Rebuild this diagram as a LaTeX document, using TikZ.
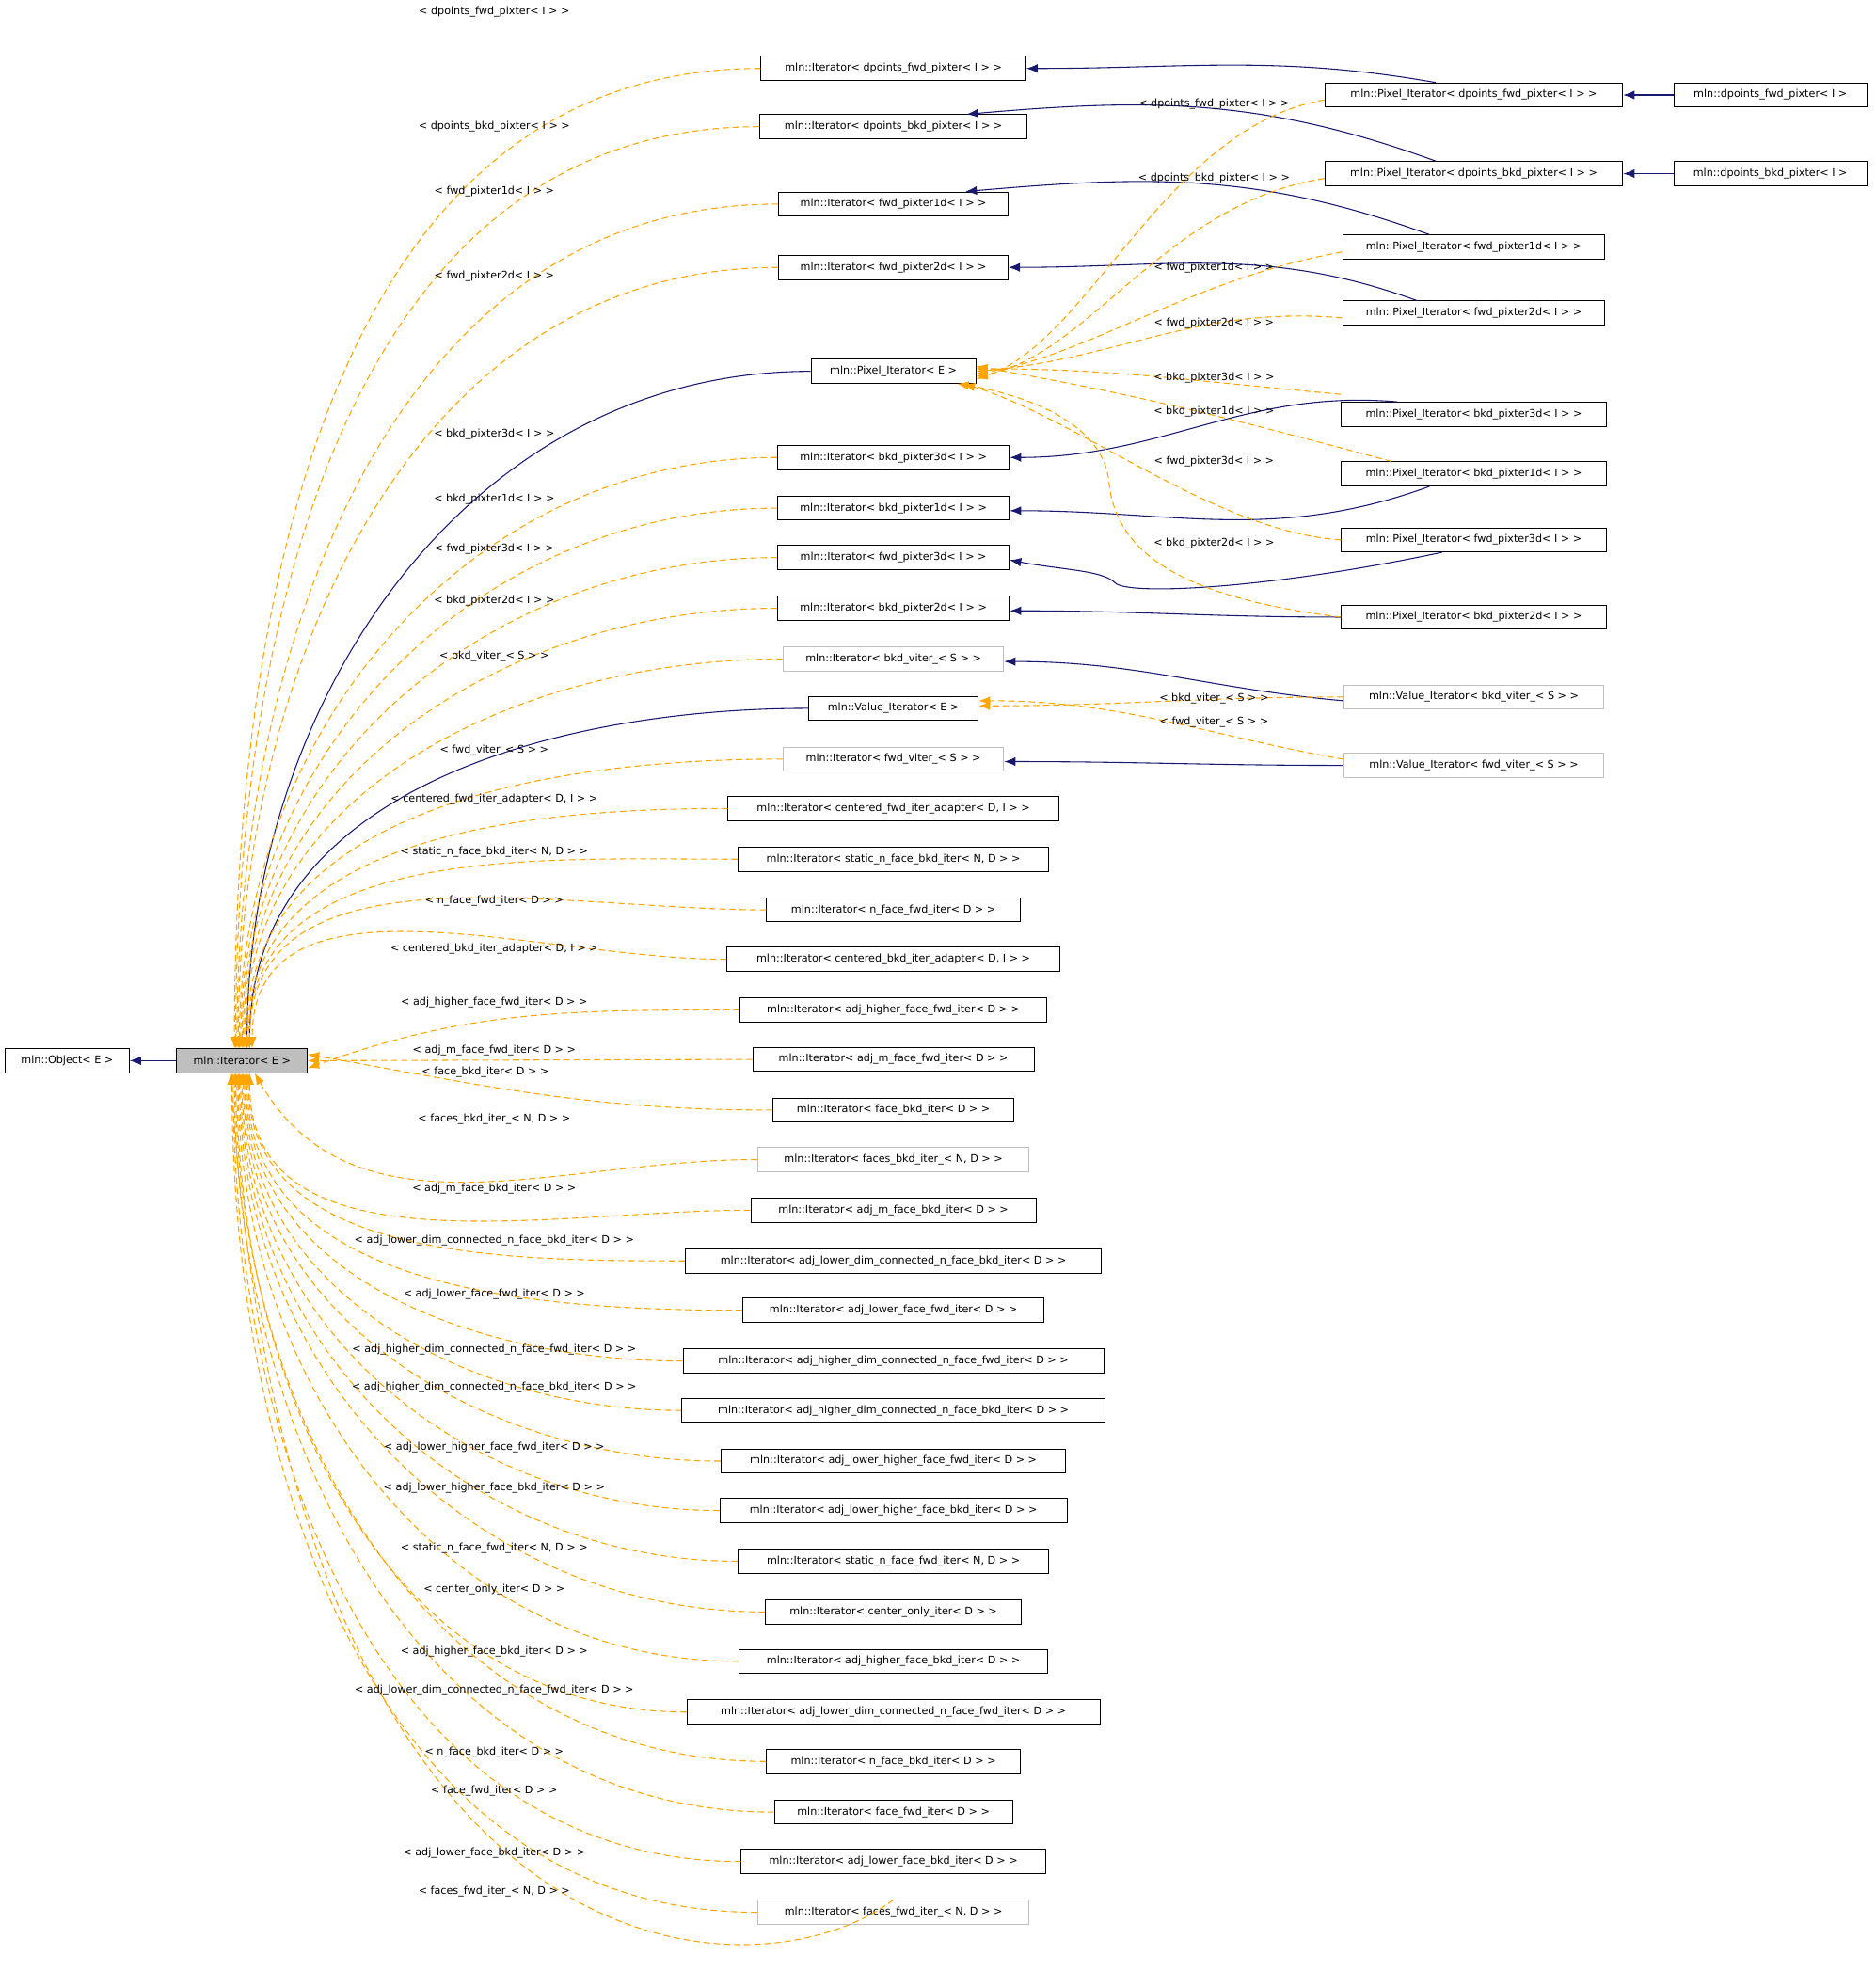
\documentclass[tikz,border=0pt]{standalone}
\usepackage{fontspec}
\setmainfont{DejaVu Sans}
\usetikzlibrary{arrows.meta}
\definecolor{navy}{RGB}{25,25,112}
\definecolor{org}{RGB}{255,165,0}
\definecolor{lg}{RGB}{191,191,191}
\newcommand{\ff}{\fontsize{8.3}{9.5}\selectfont}
\tikzset{
 box/.style={draw=black,fill=white,minimum height=19,inner sep=1pt,font=\ff,line width=0.7pt},
 gbox/.style={box,draw=lg},
 inh/.style={draw=navy,line width=0.8pt,-{Latex[length=9pt,width=7pt]}},
 dep/.style={draw=org,dashed,dash pattern=on 5pt off 3pt,line width=0.8pt,-{Latex[length=9pt,width=7pt]}},
 lab/.style={font=\ff,inner sep=0pt},
}
\begin{document}
\begin{tikzpicture}[x=1pt,y=-1pt]
\useasboundingbox (0,0) rectangle (1480,1568);
\node[box,minimum width=98] (obj) at (53,837) {mln::Object< E >};
\node[box,fill=lg,minimum width=103] (iter) at (191,837) {mln::Iterator< E >};
\draw[inh] (iter) -- (obj);
% middle column
\node[box,minimum width=209] (a1) at (705,54) {mln::Iterator< dpoints\_fwd\_pixter< I > >};
\node[box,minimum width=211] (a2) at (705,100) {mln::Iterator< dpoints\_bkd\_pixter< I > >};
\node[box,minimum width=181] (a3) at (705,161) {mln::Iterator< fwd\_pixter1d< I > >};
\node[box,minimum width=181] (a4) at (705,211) {mln::Iterator< fwd\_pixter2d< I > >};
\node[box,minimum width=130] (pe) at (705,293) {mln::Pixel\_Iterator< E >};
\node[box,minimum width=183] (a6) at (705,361) {mln::Iterator< bkd\_pixter3d< I > >};
\node[box,minimum width=183] (a7) at (705,401) {mln::Iterator< bkd\_pixter1d< I > >};
\node[box,minimum width=183] (a8) at (705,440) {mln::Iterator< fwd\_pixter3d< I > >};
\node[box,minimum width=183] (a9) at (705,480) {mln::Iterator< bkd\_pixter2d< I > >};
\node[gbox,minimum width=174] (a10) at (705,520) {mln::Iterator< bkd\_viter\_< S > >};
\node[box,minimum width=134] (ve) at (705,559) {mln::Value\_Iterator< E >};
\node[gbox,minimum width=174] (a12) at (705,599) {mln::Iterator< fwd\_viter\_< S > >};
\node[box,minimum width=261] (a13) at (705,638) {mln::Iterator< centered\_fwd\_iter\_adapter< D, I > >};
\node[box,minimum width=245] (a14) at (705,678) {mln::Iterator< static\_n\_face\_bkd\_iter< N, D > >};
\node[box,minimum width=200] (a15) at (705,718) {mln::Iterator< n\_face\_fwd\_iter< D > >};
\node[box,minimum width=263] (a16) at (705,757) {mln::Iterator< centered\_bkd\_iter\_adapter< D, I > >};
\node[box,minimum width=242] (a17) at (705,797) {mln::Iterator< adj\_higher\_face\_fwd\_iter< D > >};
\node[box,minimum width=222] (a18) at (705,836) {mln::Iterator< adj\_m\_face\_fwd\_iter< D > >};
\node[box,minimum width=190] (a19) at (705,876) {mln::Iterator< face\_bkd\_iter< D > >};
\node[gbox,minimum width=214] (a20) at (705,915) {mln::Iterator< faces\_bkd\_iter\_< N, D > >};
\node[box,minimum width=225] (a21) at (705,955) {mln::Iterator< adj\_m\_face\_bkd\_iter< D > >};
\node[box,minimum width=328] (a22) at (705,995) {mln::Iterator< adj\_lower\_dim\_connected\_n\_face\_bkd\_iter< D > >};
\node[box,minimum width=238] (a23) at (705,1034) {mln::Iterator< adj\_lower\_face\_fwd\_iter< D > >};
\node[box,minimum width=332] (a24) at (705,1074) {mln::Iterator< adj\_higher\_dim\_connected\_n\_face\_fwd\_iter< D > >};
\node[box,minimum width=334] (a25) at (705,1113) {mln::Iterator< adj\_higher\_dim\_connected\_n\_face\_bkd\_iter< D > >};
\node[box,minimum width=272] (a26) at (705,1153) {mln::Iterator< adj\_lower\_higher\_face\_fwd\_iter< D > >};
\node[box,minimum width=274] (a27) at (705,1192) {mln::Iterator< adj\_lower\_higher\_face\_bkd\_iter< D > >};
\node[box,minimum width=245] (a28) at (705,1232) {mln::Iterator< static\_n\_face\_fwd\_iter< N, D > >};
\node[box,minimum width=202] (a29) at (705,1272) {mln::Iterator< center\_only\_iter< D > >};
\node[box,minimum width=244] (a30) at (705,1311) {mln::Iterator< adj\_higher\_face\_bkd\_iter< D > >};
\node[box,minimum width=326] (a31) at (705,1351) {mln::Iterator< adj\_lower\_dim\_connected\_n\_face\_fwd\_iter< D > >};
\node[box,minimum width=200] (a32) at (705,1390) {mln::Iterator< n\_face\_bkd\_iter< D > >};
\node[box,minimum width=188] (a33) at (705,1430) {mln::Iterator< face\_fwd\_iter< D > >};
\node[box,minimum width=240] (a34) at (705,1469) {mln::Iterator< adj\_lower\_face\_bkd\_iter< D > >};
\node[gbox,minimum width=214] (a35) at (705,1509) {mln::Iterator< faces\_fwd\_iter\_< N, D > >};
% right column
\node[box,minimum width=235] (p1) at (1163,75) {mln::Pixel\_Iterator< dpoints\_fwd\_pixter< I > >};
\node[box,minimum width=235] (p2) at (1163,137) {mln::Pixel\_Iterator< dpoints\_bkd\_pixter< I > >};
\node[box,minimum width=207] (p3) at (1163,195) {mln::Pixel\_Iterator< fwd\_pixter1d< I > >};
\node[box,minimum width=207] (p4) at (1163,247) {mln::Pixel\_Iterator< fwd\_pixter2d< I > >};
\node[box,minimum width=209] (p5) at (1163,327) {mln::Pixel\_Iterator< bkd\_pixter3d< I > >};
\node[box,minimum width=209] (p6) at (1163,374) {mln::Pixel\_Iterator< bkd\_pixter1d< I > >};
\node[box,minimum width=209] (p7) at (1163,426) {mln::Pixel\_Iterator< fwd\_pixter3d< I > >};
\node[box,minimum width=209] (p8) at (1163,487) {mln::Pixel\_Iterator< bkd\_pixter2d< I > >};
\node[gbox,minimum width=205] (v1) at (1163,550) {mln::Value\_Iterator< bkd\_viter\_< S > >};
\node[gbox,minimum width=205] (v2) at (1163,604) {mln::Value\_Iterator< fwd\_viter\_< S > >};
\node[box,minimum width=152] (d1) at (1397,75) {mln::dpoints\_fwd\_pixter< I >};
\node[box,minimum width=152] (d2) at (1397,137) {mln::dpoints\_bkd\_pixter< I >};
% solid inheritance
\draw[inh] (pe.west) to[out=180,in=90] ([xshift=4]iter.north);
\draw[inh] (ve.west) to[out=180,in=90] ([xshift=6]iter.north);
\draw[inh] (d1) -- (p1);
\draw[inh] (d2) -- (p2);
\draw[inh] ([xshift=-30]p1.north) to[out=170,in=0] (a1.east);
\draw[inh] ([xshift=-30]p2.north) to[out=160,in=5] ([xshift=-48]a2.north east);
\draw[inh] ([xshift=-35]p3.north) to[out=160,in=5] ([xshift=-34]a3.north east);
\draw[inh] ([xshift=-45]p4.north) to[out=160,in=0] (a4.east);
\draw[inh] ([xshift=-60]p5.north) to[out=175,in=0] (a6.east);
\draw[inh] ([xshift=-35]p6.south) to[out=-160,in=0] ([yshift=-2]a7.east);
\draw[inh] ([xshift=-25]p7.south) .. controls (1000,465) and (890,470) .. (880,460) .. controls (870,450) and (840,450) .. ([yshift=-2]a8.east);
\draw[inh] (p8.west) to[out=180,in=0] ([yshift=-2]a9.east);
\draw[inh] ([yshift=-3]v1.west) to[out=175,in=0] ([yshift=-2]a10.east);
\draw[inh] (v2.west) to[out=180,in=0] ([yshift=-2]a12.east);
% dashed to Pixel_Iterator / Value_Iterator
\draw[dep] ([yshift=6]p1.south west) .. controls (920,100) and (860,270) .. ([yshift=-6]pe.east);
\draw[dep] ([yshift=6]p2.south west) .. controls (920,160) and (860,280) .. ([yshift=-4]pe.east);
\draw[dep] ([yshift=6]p3.south west) .. controls (940,220) and (860,280) .. ([yshift=-2]pe.east);
\draw[dep] ([yshift=6]p4.south west) to[out=175,in=5] (pe.east);
\draw[dep] ([yshift=6]p5.north west) to[out=175,in=0] ([yshift=2]pe.east);
\draw[dep] ([xshift=40]p6.north west) to[out=165,in=-10] ([yshift=4]pe.east);
\draw[dep] (p7.west) .. controls (960,420) and (850,330) .. ([xshift=-10,yshift=0]pe.south east);
\draw[dep] (p8.west) .. controls (920,470) and (880,430) .. (875,380) .. controls (870,330) and (800,310) .. ([xshift=-15]pe.south east);
\draw[dep] (v1.west) to[out=180,in=0] ([yshift=2]ve.east);
\draw[dep] ([yshift=-5]v2.north west) to[out=170,in=0] ([yshift=6]ve.east);
\node[lab] at (958,82) {< dpoints\_fwd\_pixter< I > >};
\node[lab] at (958,141) {< dpoints\_bkd\_pixter< I > >};
\node[lab] at (958,211) {< fwd\_pixter1d< I > >};
\node[lab] at (958,255) {< fwd\_pixter2d< I > >};
\node[lab] at (958,298) {< bkd\_pixter3d< I > >};
\node[lab] at (958,325) {< bkd\_pixter1d< I > >};
\node[lab] at (958,364) {< fwd\_pixter3d< I > >};
\node[lab] at (958,429) {< bkd\_pixter2d< I > >};
\node[lab] at (958,551) {< bkd\_viter\_< S > >};
\node[lab] at (958,570) {< fwd\_viter\_< S > >};
% dashed from middle column to Iterator<E>
\foreach \n/\s in {a1/-6,a2/-5,a3/-4,a4/-3,a6/-2,a7/-1,a8/0,a9/1,a10/2,a12/3,a13/4,a14/5,a15/6,a16/8}
  \draw[dep] (\n.west) to[out=180,in=90] ([xshift=\s]iter.north);
\draw[dep] (a17.west) to[out=180,in=20] ([yshift=-6]iter.east);
\draw[dep] (a18.west) -- (iter.east);
\draw[dep] (a19.west) to[out=180,in=-10] ([yshift=5]iter.east);
\draw[dep] (a20.west) to[out=180,in=-60] ([xshift=10]iter.south);
\foreach \n/\s in {a21/6,a22/5,a23/4,a24/3,a25/2,a26/1,a27/0,a28/-1,a29/-2,a30/-3,a31/-4,a32/-5,a33/-6,a34/-7,a35/-8}
  \draw[dep] (\n.west) to[out=180,in=-90] ([xshift=\s]iter.south);
\draw[dep] (a35.north) .. controls (600,1580) and (230,1580) .. ([xshift=-9]iter.south);
\node[lab] at (390,9) {< dpoints\_fwd\_pixter< I > >};
\node[lab] at (390,100) {< dpoints\_bkd\_pixter< I > >};
\node[lab] at (390,151) {< fwd\_pixter1d< I > >};
\node[lab] at (390,218) {< fwd\_pixter2d< I > >};
\node[lab] at (390,343) {< bkd\_pixter3d< I > >};
\node[lab] at (390,394) {< bkd\_pixter1d< I > >};
\node[lab] at (390,433) {< fwd\_pixter3d< I > >};
\node[lab] at (390,474) {< bkd\_pixter2d< I > >};
\node[lab] at (390,518) {< bkd\_viter\_< S > >};
\node[lab] at (390,592) {< fwd\_viter\_< S > >};
\node[lab] at (390,631) {< centered\_fwd\_iter\_adapter< D, I > >};
\node[lab] at (390,672) {< static\_n\_face\_bkd\_iter< N, D > >};
\node[lab] at (390,711) {< n\_face\_fwd\_iter< D > >};
\node[lab] at (390,749) {< centered\_bkd\_iter\_adapter< D, I > >};
\node[lab] at (390,791) {< adj\_higher\_face\_fwd\_iter< D > >};
\node[lab] at (390,829) {< adj\_m\_face\_fwd\_iter< D > >};
\node[lab] at (383,846) {< face\_bkd\_iter< D > >};
\node[lab] at (390,883) {< faces\_bkd\_iter\_< N, D > >};
\node[lab] at (390,938) {< adj\_m\_face\_bkd\_iter< D > >};
\node[lab] at (390,979) {< adj\_lower\_dim\_connected\_n\_face\_bkd\_iter< D > >};
\node[lab] at (390,1021) {< adj\_lower\_face\_fwd\_iter< D > >};
\node[lab] at (390,1065) {< adj\_higher\_dim\_connected\_n\_face\_fwd\_iter< D > >};
\node[lab] at (390,1095) {< adj\_higher\_dim\_connected\_n\_face\_bkd\_iter< D > >};
\node[lab] at (390,1142) {< adj\_lower\_higher\_face\_fwd\_iter< D > >};
\node[lab] at (390,1174) {< adj\_lower\_higher\_face\_bkd\_iter< D > >};
\node[lab] at (390,1222) {< static\_n\_face\_fwd\_iter< N, D > >};
\node[lab] at (390,1254) {< center\_only\_iter< D > >};
\node[lab] at (390,1303) {< adj\_higher\_face\_bkd\_iter< D > >};
\node[lab] at (390,1334) {< adj\_lower\_dim\_connected\_n\_face\_fwd\_iter< D > >};
\node[lab] at (390,1383) {< n\_face\_bkd\_iter< D > >};
\node[lab] at (390,1413) {< face\_fwd\_iter< D > >};
\node[lab] at (390,1462) {< adj\_lower\_face\_bkd\_iter< D > >};
\node[lab] at (390,1493) {< faces\_fwd\_iter\_< N, D > >};
\end{tikzpicture}
\end{document}
